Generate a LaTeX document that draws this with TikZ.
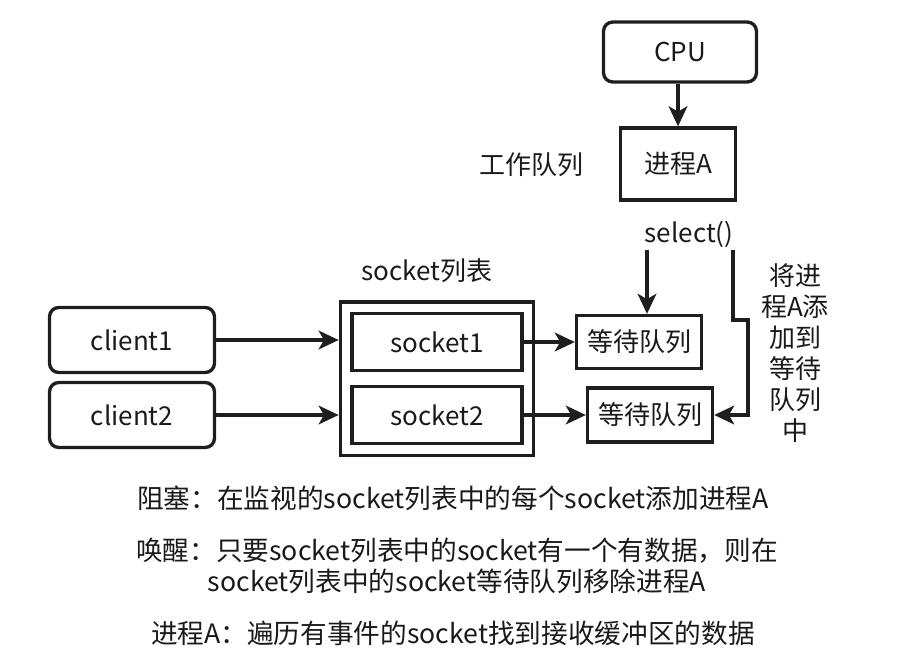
\documentclass[tikz,border=0pt]{standalone}
\usepackage{fontspec}
\setmainfont{Noto Sans CJK SC}
\usetikzlibrary{arrows.meta,fit}
\definecolor{inkcolor}{HTML}{1E1E1E}
\definecolor{textcolor}{HTML}{1A1A1A}

\begin{document}
\begin{tikzpicture}[
    x=0.75pt, y=-0.75pt,
    every node/.style={font=\fontsize{19.5}{23}\selectfont, text=textcolor},
    box/.style={draw=inkcolor, line width=2.5pt, inner sep=0pt},
    rbox/.style={box, rounded corners=7pt},
    arr/.style={draw=inkcolor, line width=2.5pt, -{Stealth[length=15pt, width=14pt, inset=4pt]}},
    note/.style={font=\fontsize{20}{23.5}\selectfont},
]
\useasboundingbox (0,0) rectangle (906,669);

% Top: CPU and process
\node[rbox, minimum width=114.75pt, minimum height=45pt] (cpu) at (680,52) {CPU};
\node[box, minimum width=86.25pt, minimum height=54pt] (procA) at (678,164) {进程A};
\node (workq) at (531,165) {工作队列};
\node (select) at (689,234) {select()};
\draw[arr] (cpu.south -| procA) -- (procA.north);

% Socket list
\node (listlabel) at (427,271) {socket列表};
\node[box, minimum width=127.5pt, minimum height=42.75pt] (sock1) at (437,342) {socket1};
\node[box, minimum width=127.5pt, minimum height=42.75pt] (sock2) at (437,415) {socket2};
\node[box, fit=(sock1)(sock2), inner sep=7.5pt] (socklist) {};

% Wait queues
\node[box, minimum width=93.75pt, minimum height=39.75pt] (waitq1) at (639,342) {等待队列};
\node[box, minimum width=93.75pt, minimum height=40.5pt] (waitq2) at (650,415) {等待队列};

% Clients
\node[rbox, minimum width=123.75pt, minimum height=48.75pt] (client1) at (132,340) {client1};
\node[rbox, minimum width=123.75pt, minimum height=48.75pt] (client2) at (132,415) {client2};

\draw[arr] (client1.east) -- (client1.east -| socklist.west);
\draw[arr] (client2.east) -- (client2.east -| socklist.west);
\draw[arr] (sock1.east) -- (sock1.east -| waitq1.west);
\draw[arr] (sock2.east) -- (sock2.east -| waitq2.west);

% select() paths
\coordinate (sel1) at (647,250);
\coordinate (sel2) at (733,250);
\coordinate (bend) at (748,320);
\draw[arr] (sel1) -- (sel1 |- waitq1.north);
\draw[arr] (sel2) |- (bend) |- (waitq2.east);
\node[align=center, font=\fontsize{19.5}{23.25}\selectfont] (addnote) at (795,353)
    {将进\\程A添\\加到\\等待\\队列\\中};

% Notes
\node[note] (block) at (453,498) {阻塞：在监视的socket列表中的每个socket添加进程A};
\node[note, align=center] (wake) at (457,566)
    {唤醒：只要socket列表中的socket有一个有数据，则在\\socket列表中的socket等待队列移除进程A};
\node[note] (traverse) at (453,633) {进程A：遍历有事件的socket找到接收缓冲区的数据};

\end{tikzpicture}
\end{document}
